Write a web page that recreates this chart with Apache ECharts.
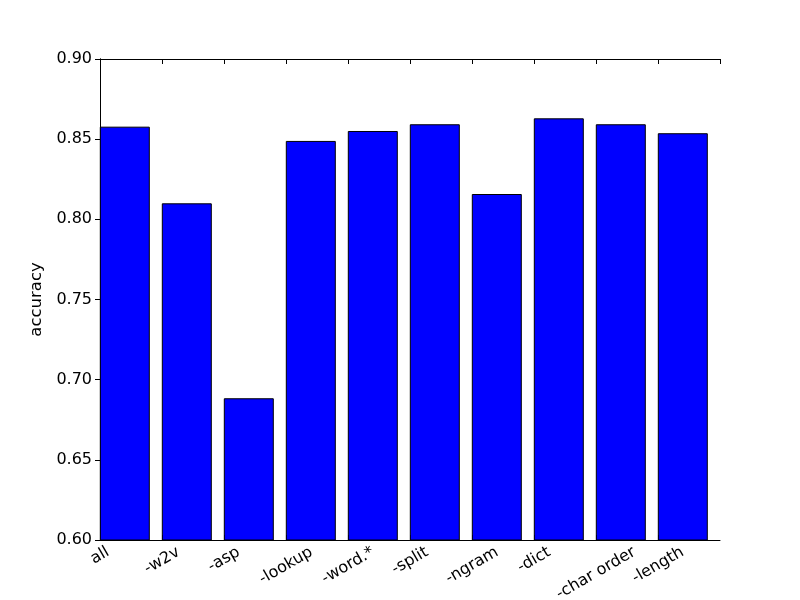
<!DOCTYPE html>
<html>
<head>
<meta charset="utf-8">
<script src="https://cdn.jsdelivr.net/npm/echarts@6/dist/echarts.min.js"></script>
<style>html,body{margin:0;padding:0;background:#fff;}#c{width:800px;height:600px;}</style>
</head>
<body>
<div id="c"></div>
<script>
const categories = ['all', '-w2v', '-asp', '-lookup', '-word.*', '-split', '-ngram', '-dict', '-char order', '-length'];
const accuracy = [0.8578, 0.8100, 0.6884, 0.8489, 0.8551, 0.8593, 0.8158, 0.8630, 0.8593, 0.8537];
const yTicks = [0.60, 0.65, 0.70, 0.75, 0.80, 0.85, 0.90];

const font = 'DejaVu Sans';
const fs = 16;

// Emulate matplotlib's rotated-label layout (rotated box centred on tick, top aligned):
// each rotated label is pushed down a little according to its text width using spacer tokens.
const ctx = document.createElement('canvas').getContext('2d');
ctx.font = fs + 'px "' + font + '"';
const rich = { t: { fontSize: fs, fontFamily: font, color: '#000', lineHeight: 18 } };
categories.forEach((c, i) => {
  const d = ctx.measureText(c).width / 4;
  rich['g' + i] = { fontSize: 1, height: 1.732 * d, lineHeight: 1.732 * d };
  rich['s' + i] = { fontSize: 1, width: d, lineHeight: 18 };
});

const chart = echarts.init(document.getElementById('c'));
chart.setOption({
  animation: false,
  backgroundColor: '#fff',
  textStyle: { fontFamily: font },
  grid: { left: 100, right: 80, top: 59, bottom: 60, containLabel: false, outerBoundsMode: 'none' },
  xAxis: [
    {
      type: 'value', min: 0, max: categories.length, interval: 1, position: 'bottom',
      splitLine: { show: false },
      axisLine: { show: true, lineStyle: { color: '#000', width: 1 } },
      axisTick: { show: true, inside: true, length: 5, lineStyle: { color: '#000' } },
      axisLabel: {
        show: true, rotate: 30, align: 'center', verticalAlign: 'middle', margin: 11,
        color: '#000', fontSize: fs, fontFamily: font,
        formatter: v => (categories[v] !== undefined
          ? '{g' + v + '| }\n{t|' + categories[v] + '}{s' + v + '| }' : ''),
        rich: rich,
        hideOverlap: false,
        showMaxLabel: false
      }
    },
    {
      type: 'value', min: 0, max: categories.length, interval: 1, position: 'top',
      splitLine: { show: false },
      axisLine: { show: true, lineStyle: { color: '#000', width: 1 } },
      axisTick: { show: true, inside: true, length: 5, lineStyle: { color: '#000' } },
      axisLabel: { show: false }
    }
  ],
  yAxis: [
    {
      type: 'value', min: yTicks[0], max: yTicks[yTicks.length - 1], interval: 0.05, position: 'left',
      name: 'accuracy', nameLocation: 'middle', nameGap: 52, nameRotate: 90,
      nameTextStyle: { color: '#000', fontSize: 16.5, fontFamily: font },
      splitLine: { show: false },
      axisLine: { show: true, lineStyle: { color: '#000', width: 1 } },
      axisTick: { show: true, inside: true, length: 5, lineStyle: { color: '#000' } },
      axisLabel: { color: '#000', fontSize: fs, fontFamily: font, margin: 8, formatter: v => v.toFixed(2) }
    },
    {
      type: 'value', min: yTicks[0], max: yTicks[yTicks.length - 1], interval: 0.05, position: 'right',
      splitLine: { show: false },
      axisLine: { show: true, lineStyle: { color: '#000', width: 1 } },
      axisTick: { show: true, inside: true, length: 5, lineStyle: { color: '#000' } },
      axisLabel: { show: false }
    }
  ],
  series: [{
    type: 'bar',
    xAxisIndex: 0, yAxisIndex: 0,
    barWidth: 50,
    data: accuracy.map((v, i) => [i + 0.4, v]),
    itemStyle: { color: '#0000ff', borderColor: '#000', borderWidth: 1 },
    z: 3
  }]
});
</script>
</body>
</html>
